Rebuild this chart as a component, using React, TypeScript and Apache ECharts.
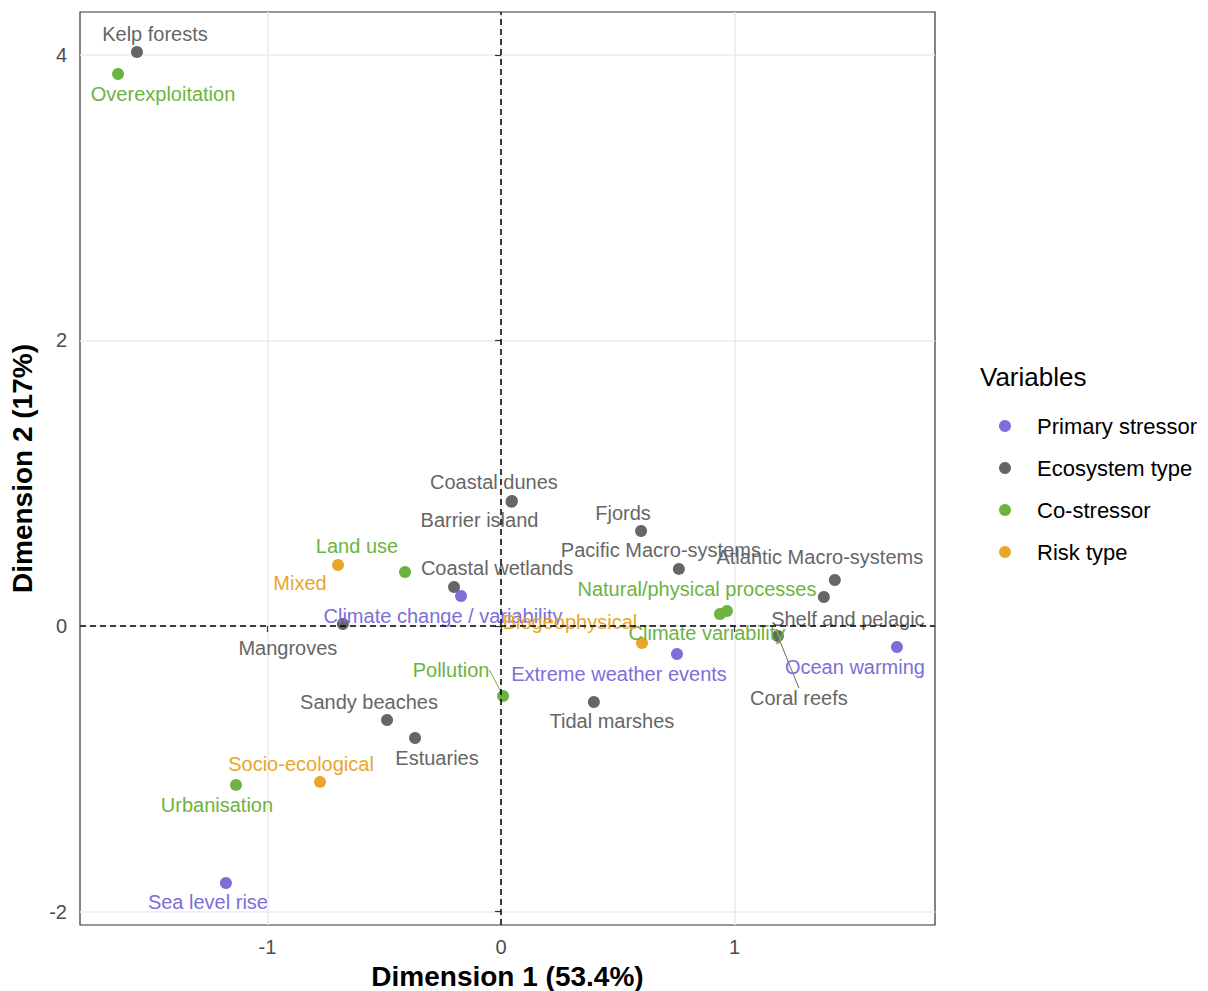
import React, { useEffect, useRef } from "react";
import * as echarts from "echarts";

// ---- Data ----
const primaryNames = ["Sea level rise", "Climate change / variability", "Extreme weather events", "Ocean warming"];
const primaryDim1 = [-1.178, -0.171, 0.754, 1.696];
const primaryDim2 = [-1.8, 0.21, -0.196, -0.147];

const ecoNames = [
  "Kelp forests", "Coastal dunes", "Barrier island", "Fjords", "Pacific Macro-systems",
  "Atlantic Macro-systems", "Shelf and pelagic", "Coastal wetlands", "Mangroves",
  "Sandy beaches", "Estuaries", "Tidal marshes", "Coral reefs",
];
const ecoDim1 = [-1.559, 0.047, 0.045, 0.6, 0.762, 1.43, 1.383, -0.201, -0.677, -0.488, -0.368, 0.398, 1.186];
const ecoDim2 = [4.02, 0.875, 0.87, 0.665, 0.4, 0.322, 0.203, 0.273, 0.014, -0.658, -0.784, -0.532, -0.07];

const coNames = ["Overexploitation", "Land use", "Natural/physical processes", "Climate variability", "Pollution", "Urbanisation"];
const coDim1 = [-1.64, -0.411, 0.968, 0.938, 0.009, -1.135];
const coDim2 = [3.866, 0.378, 0.105, 0.084, -0.49, -1.113];

const riskNames = ["Mixed", "Biogeophysical", "Socio-ecological"];
const riskDim1 = [-0.698, 0.604, -0.775];
const riskDim2 = [0.427, -0.119, -1.092];

const groupNames = ["Primary stressor", "Ecosystem type", "Co-stressor", "Risk type"];
const xTicks = [-1, 0, 1];
const yTicks = [-2, 0, 2, 4];

// ---- Label placement (pixel offsets from each point, repel-style) ----
const primaryLabelOffsets = [[-18, 19], [-18, 20], [-58, 20], [-42, 20]];
const ecoLabelOffsets = [
  [18, -18], [-18, -19], [-32, 18], [-18, -18], [-18, -19],
  [-15, -23], [24, 22], [43, -19], [-55, 24],
  [-18, -18], [22, 20], [18, 19], [21, 62],
];
const coLabelOffsets = [[45, 20], [-48, -26], [-30, -22], [-13, 19], [-52, -26], [-19, 20]];
const riskLabelOffsets = [[-38, 18], [-72, -21], [-19, -18]];
const ecoLines = [12];
const coLines = [4];

const colors = ["#7D6ED8", "#666666", "#6DB33F", "#E9A62B"];
const FONT = "'Liberation Sans', Arial, Helvetica, sans-serif";

function makeSeries(
  name: string,
  names: string[],
  d1: number[],
  d2: number[],
  offsets: number[][],
  color: string,
  lines: number[],
  extra: any = {}
) {
  return {
    name,
    type: "scatter",
    symbol: "circle",
    symbolSize: 12,
    itemStyle: { color, opacity: 1 },
    data: names.map((n, i) => ({
      name: n,
      value: [d1[i], d2[i]],
      labelLine: { show: lines.includes(i) },
    })),
    label: {
      show: true,
      position: "inside",
      formatter: (p: any) => p.name,
      color,
      fontSize: 20,
      fontFamily: FONT,
      align: "center",
      verticalAlign: "middle",
    },
    labelLine: { show: false, lineStyle: { color, width: 1 }, smooth: false, length2: 0 },
    labelLayout: (p: any) => ({ dx: offsets[p.dataIndex][0], dy: offsets[p.dataIndex][1] }),
    emphasis: { disabled: true },
    z: 3,
    ...extra,
  };
}

export default function App() {
  const ref = useRef<HTMLDivElement>(null);
  useEffect(() => {
    if (!ref.current) return;
    const chart = echarts.init(ref.current, undefined, { renderer: "svg" });
    const axisCommon = {
      type: "value",
      axisLine: { show: false },
      axisTick: { show: true, length: 6, lineStyle: { color: "#333333", width: 1.2 } },
      splitLine: { show: true, lineStyle: { color: "#EBEBEB", width: 1.6 } },
      minorSplitLine: { show: false },
      nameTextStyle: { color: "#000000", fontSize: 28, fontWeight: "bold", fontFamily: FONT },
    };
    chart.setOption({
      animation: false,
      backgroundColor: "#ffffff",
      textStyle: { fontFamily: FONT },
      grid: {
        left: 80,
        right: 273,
        top: 12,
        bottom: 66,
        show: true,
        borderColor: "#333333",
        borderWidth: 1.2,
        backgroundColor: "transparent",
        containLabel: false,
        outerBoundsMode: "none",
      },
      xAxis: {
        ...axisCommon,
        min: -1.803,
        max: 1.859,
        splitNumber: 3,
        name: "Dimension 1 (53.4%)",
        nameLocation: "middle",
        nameGap: 37,
        axisTick: { ...axisCommon.axisTick, customValues: xTicks },
        axisLabel: {
          customValues: xTicks,
          color: "#4D4D4D",
          fontSize: 20,
          margin: 12,
          fontFamily: FONT,
        },
      },
      yAxis: {
        ...axisCommon,
        min: -2.094,
        max: 4.3,
        splitNumber: 3,
        name: "Dimension 2 (17%)",
        nameLocation: "middle",
        nameGap: 44,
        axisTick: { ...axisCommon.axisTick, customValues: yTicks },
        axisLabel: {
          customValues: yTicks,
          color: "#4D4D4D",
          fontSize: 20,
          margin: 13,
          fontFamily: FONT,
        },
      },
      legend: {
        orient: "vertical",
        left: 994,
        top: 410,
        itemWidth: 12,
        itemHeight: 12,
        itemGap: 20,
        icon: "circle",
        data: groupNames,
        textStyle: { color: "#000000", fontSize: 22, fontFamily: FONT, padding: [0, 0, 0, 21] },
        selectedMode: false,
      },
      graphic: [
        {
          type: "text",
          left: 980,
          top: 364,
          style: { text: "Variables", fill: "#000000", fontSize: 26, fontFamily: FONT },
        },
      ],
      series: [
        makeSeries(groupNames[0], primaryNames, primaryDim1, primaryDim2, primaryLabelOffsets, colors[0], [], {
          markLine: {
            silent: true,
            symbol: ["none", "none"],
            label: { show: false },
            lineStyle: { color: "#000000", type: [6, 4], width: 1.5 },
            emphasis: { disabled: true },
            z: 10,
            data: [{ xAxis: 0 }, { yAxis: 0 }],
          },
        }),
        makeSeries(groupNames[1], ecoNames, ecoDim1, ecoDim2, ecoLabelOffsets, colors[1], ecoLines),
        makeSeries(groupNames[2], coNames, coDim1, coDim2, coLabelOffsets, colors[2], coLines),
        makeSeries(groupNames[3], riskNames, riskDim1, riskDim2, riskLabelOffsets, colors[3], []),
      ],
    });
    return () => chart.dispose();
  }, []);
  return (
    <div
      ref={ref}
      style={{ position: "fixed", left: 0, top: 0, width: 1208, height: 991, background: "#fff" }}
    />
  );
}
